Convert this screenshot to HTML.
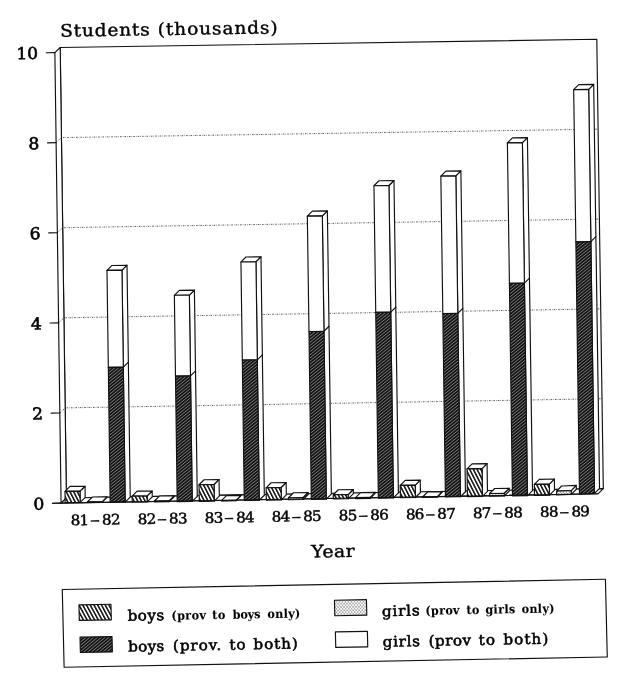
<!DOCTYPE html>
<html lang="en"><head><meta charset="utf-8"><title>Students (thousands) by Year</title>
<style>
html,body{margin:0;padding:0;background:#fff}
body{width:623px;height:683px;overflow:hidden}
svg{display:block;filter:grayscale(1)}
text{font-family:"DejaVu Serif","Liberation Serif",serif;fill:#111;stroke:#111;stroke-width:.2px}
.ln{stroke:#111;stroke-width:1.15px;fill:none;stroke-linejoin:round;stroke-linecap:round}
.wf{stroke:#111;stroke-width:1.15px;fill:#fff;stroke-linejoin:round}
.grid{stroke:#333;stroke-width:.8px;fill:none;stroke-dasharray:1.6 1.1 .6 1.1}
.b{font-weight:bold;stroke-width:.1px;fill:#000}
.lg{stroke-width:.55px;fill:#000;stroke:#000}
.yl{stroke-width:.6px;fill:#000;stroke:#000}
.xl{stroke-width:.45px;fill:#000;stroke:#000}
.tt{stroke-width:.4px;fill:#000;stroke:#000}
</style></head><body>
<svg width="623" height="683" viewBox="0 0 623 683">
<defs>
<pattern id="pBoys" width="3.3" height="3.3" patternUnits="userSpaceOnUse" patternTransform="rotate(-27)"><rect width="3.3" height="3.3" fill="#fff"/><rect width="1.55" height="3.3" fill="#111"/></pattern>
<pattern id="pBoth" width="2.45" height="2.45" patternUnits="userSpaceOnUse" patternTransform="rotate(51)"><rect width="2.45" height="2.45" fill="#111"/><rect width=".55" height="2.45" fill="#b4b4b4"/></pattern>
<pattern id="pGirls" width="3" height="3.4" patternUnits="userSpaceOnUse"><rect width="3" height="3.4" fill="#fff"/><circle cx=".75" cy=".85" r=".55" fill="#333"/><circle cx="2.25" cy="2.55" r=".55" fill="#333"/></pattern>
</defs>
<rect width="623" height="683" fill="#fff"/>
<g>
<polygon class="wf" points="60.2,47.5 596.8,39.3 603.3,488.6 66.4,498"/>
<polygon class="wf" points="60.2,47.5 54.87,52.58 61.07,503.09 66.4,498"/>
<polygon class="wf" points="66.4,498 603.3,488.6 597.97,493.79 61.07,503.09"/>
<path class="grid" d="M59.83 412.99L65.16 407.9L602 398.74"/>
<path class="grid" d="M58.59 322.89L63.92 317.8L600.7 308.88"/>
<path class="grid" d="M57.35 232.78L62.68 227.7L599.4 219.02"/>
<path class="grid" d="M56.11 142.68L61.44 137.6L598.1 129.16"/>
<line class="ln" x1="52.46" y1="503.24" x2="61.07" y2="503.09"/>
<text font-size="16.3" transform="translate(44.44 509.48) rotate(-1.01) scale(1.05 1)" text-anchor="end" class="yl">0</text>
<line class="ln" x1="51.23" y1="413.14" x2="59.83" y2="412.99"/>
<text font-size="16.3" transform="translate(43.21 419.37) rotate(-0.98) scale(1.05 1)" text-anchor="end" class="yl">2</text>
<line class="ln" x1="49.99" y1="323.03" x2="58.59" y2="322.89"/>
<text font-size="16.3" transform="translate(41.97 329.26) rotate(-0.96) scale(1.05 1)" text-anchor="end" class="yl">4</text>
<line class="ln" x1="48.75" y1="232.92" x2="57.35" y2="232.78"/>
<text font-size="16.3" transform="translate(40.73 239.15) rotate(-0.93) scale(1.05 1)" text-anchor="end" class="yl">6</text>
<line class="ln" x1="47.51" y1="142.82" x2="56.11" y2="142.68"/>
<text font-size="16.3" transform="translate(39.49 149.04) rotate(-0.90) scale(1.05 1)" text-anchor="end" class="yl">8</text>
<line class="ln" x1="46.27" y1="52.71" x2="54.87" y2="52.58"/>
<text font-size="16.3" transform="translate(38.26 58.93) rotate(-0.88) scale(1.05 1)" text-anchor="end" class="yl">10</text>
<polygon class="wf" points="80.01,491.19 85.05,486.25 85.2,497.45 80.17,502.39"/>
<polygon class="wf" points="65.01,491.33 70.04,486.38 85.05,486.25 80.01,491.19"/>
<polygon class="wf" style="fill:url(#pBoys)" points="65.01,491.33 80.01,491.19 80.17,502.39 65.16,502.52"/>
<polygon class="wf" points="101.97,501.82 107,496.87 107.01,497.27 101.98,502.22"/>
<polygon class="wf" points="87.36,501.93 92.4,496.99 107,496.87 101.97,501.82"/>
<polygon class="wf" style="fill:url(#pGirls)" points="87.36,501.93 101.97,501.82 101.98,502.22 87.37,502.33"/>
<polygon class="wf" points="121.98,270.19 127.02,265.21 130.22,497.09 125.18,502.04"/>
<line class="ln" x1="123.32" y1="367.15" x2="128.36" y2="362.17"/>
<polygon class="wf" points="106.98,270.43 112.01,265.46 127.02,265.21 121.98,270.19"/>
<polygon class="wf" points="106.98,270.43 121.98,270.19 123.32,367.15 108.32,367.37"/>
<polygon class="wf" style="fill:url(#pBoth)" points="108.32,367.37 123.32,367.15 125.18,502.04 110.18,502.16"/>
<polygon class="wf" points="147.13,495.95 152.16,490.99 152.25,496.91 147.21,501.87"/>
<polygon class="wf" points="132.13,496.07 137.16,491.12 152.16,490.99 147.13,495.95"/>
<polygon class="wf" style="fill:url(#pBoys)" points="132.13,496.07 147.13,495.95 147.21,501.87 132.21,501.98"/>
<polygon class="wf" points="169.01,500.89 174.04,495.93 174.05,496.74 169.02,501.7"/>
<polygon class="wf" points="154.4,501.01 159.44,496.05 174.04,495.93 169.01,500.89"/>
<polygon class="wf" style="fill:url(#pGirls)" points="154.4,501.01 169.01,500.89 169.02,501.7 154.42,501.81"/>
<polygon class="wf" points="189.37,295.06 194.4,290.08 197.26,496.43 192.23,501.44"/>
<line class="ln" x1="190.49" y1="375.93" x2="195.53" y2="370.92"/>
<polygon class="wf" points="174.37,295.3 179.4,290.33 194.4,290.08 189.37,295.06"/>
<polygon class="wf" points="174.37,295.3 189.37,295.06 190.49,375.93 175.49,376.16"/>
<polygon class="wf" style="fill:url(#pBoth)" points="175.49,376.16 190.49,375.93 192.23,501.44 177.22,501.63"/>
<polygon class="wf" points="214.03,484.48 219.06,479.46 219.29,496.04 214.26,501.06"/>
<polygon class="wf" points="199.02,484.74 204.06,479.73 219.06,479.46 214.03,484.48"/>
<polygon class="wf" style="fill:url(#pBoys)" points="199.02,484.74 214.03,484.48 214.26,501.06 199.25,501.32"/>
<polygon class="wf" points="236.06,500.37 241.1,495.36 241.1,495.66 236.07,500.67"/>
<polygon class="wf" points="221.46,500.63 226.49,495.62 241.1,495.36 236.06,500.37"/>
<polygon class="wf" style="fill:url(#pGirls)" points="221.46,500.63 236.06,500.37 236.07,500.67 221.46,500.93"/>
<polygon class="wf" points="255.95,261.7 260.98,256.73 264.31,495.26 259.27,500.27"/>
<line class="ln" x1="257.32" y1="359.92" x2="262.35" y2="354.92"/>
<polygon class="wf" points="240.95,261.95 245.98,256.97 260.98,256.73 255.95,261.7"/>
<polygon class="wf" points="240.95,261.95 255.95,261.7 257.32,359.92 242.32,360.18"/>
<polygon class="wf" style="fill:url(#pBoth)" points="242.32,360.18 257.32,359.92 259.27,500.27 244.27,500.53"/>
<polygon class="wf" points="281.13,487.53 286.16,482.51 286.34,494.87 281.3,499.88"/>
<polygon class="wf" points="266.13,487.79 271.16,482.78 286.16,482.51 281.13,487.53"/>
<polygon class="wf" style="fill:url(#pBoys)" points="266.13,487.79 281.13,487.53 281.3,499.88 266.3,500.14"/>
<polygon class="wf" points="303.08,497.49 308.12,492.48 308.14,494.49 303.11,499.5"/>
<polygon class="wf" points="288.48,497.75 293.51,492.73 308.12,492.48 303.08,497.49"/>
<polygon class="wf" style="fill:url(#pGirls)" points="288.48,497.75 303.08,497.49 303.11,499.5 288.51,499.75"/>
<polygon class="wf" points="322.34,215.89 327.37,210.92 331.35,494.08 326.32,499.09"/>
<line class="ln" x1="323.97" y1="331.28" x2="329" y2="326.27"/>
<polygon class="wf" points="307.34,216.14 312.37,211.16 327.37,210.92 322.34,215.89"/>
<polygon class="wf" points="307.34,216.14 322.34,215.89 323.97,331.28 308.97,331.53"/>
<polygon class="wf" style="fill:url(#pBoth)" points="308.97,331.53 323.97,331.28 326.32,499.09 311.31,499.35"/>
<polygon class="wf" points="348.29,494.49 353.32,489.48 353.38,493.7 348.35,498.71"/>
<polygon class="wf" points="333.28,494.75 338.32,489.74 353.32,489.48 348.29,494.49"/>
<polygon class="wf" style="fill:url(#pBoys)" points="333.28,494.75 348.29,494.49 348.35,498.71 333.34,498.97"/>
<polygon class="wf" points="370.14,497.42 375.18,492.41 375.19,493.31 370.16,498.32"/>
<polygon class="wf" points="355.54,497.68 360.57,492.67 375.18,492.41 370.14,497.42"/>
<polygon class="wf" style="fill:url(#pGirls)" points="355.54,497.68 370.14,497.42 370.16,498.32 355.55,498.58"/>
<polygon class="wf" points="388.95,185.48 393.98,180.51 398.4,492.91 393.37,497.92"/>
<line class="ln" x1="390.75" y1="312.19" x2="395.78" y2="307.22"/>
<polygon class="wf" points="373.95,185.72 378.98,180.75 393.98,180.51 388.95,185.48"/>
<polygon class="wf" points="373.95,185.72 388.95,185.48 390.75,312.19 375.74,312.44"/>
<polygon class="wf" style="fill:url(#pBoth)" points="375.74,312.44 390.75,312.19 393.37,497.92 378.36,498.18"/>
<polygon class="wf" points="415.22,485.08 420.25,480.07 420.43,492.52 415.39,497.53"/>
<polygon class="wf" points="400.21,485.34 405.24,480.34 420.25,480.07 415.22,485.08"/>
<polygon class="wf" style="fill:url(#pBoys)" points="400.21,485.34 415.22,485.08 415.39,497.53 400.39,497.79"/>
<polygon class="wf" points="437.2,496.75 442.23,491.74 442.23,492.14 437.2,497.15"/>
<polygon class="wf" points="422.59,497 427.62,491.99 442.23,491.74 437.2,496.75"/>
<polygon class="wf" style="fill:url(#pGirls)" points="422.59,497 437.2,496.75 437.2,497.15 422.6,497.4"/>
<polygon class="wf" points="455.84,175.83 460.88,170.86 465.44,491.73 460.41,496.74"/>
<line class="ln" x1="457.81" y1="313.28" x2="462.84" y2="308.3"/>
<polygon class="wf" points="440.85,176.07 445.88,171.1 460.88,170.86 455.84,175.83"/>
<polygon class="wf" points="440.85,176.07 455.84,175.83 457.81,313.28 442.81,313.53"/>
<polygon class="wf" style="fill:url(#pBoth)" points="442.81,313.53 457.81,313.28 460.41,496.74 445.41,497"/>
<polygon class="wf" points="482.05,468.66 487.08,463.65 487.47,491.35 482.44,496.35"/>
<polygon class="wf" points="467.04,468.92 472.07,463.91 487.08,463.65 482.05,468.66"/>
<polygon class="wf" style="fill:url(#pBoys)" points="467.04,468.92 482.05,468.66 482.44,496.35 467.43,496.62"/>
<polygon class="wf" points="504.21,493.26 509.24,488.26 509.28,490.97 504.25,495.97"/>
<polygon class="wf" points="489.6,493.52 494.64,488.51 509.24,488.26 504.21,493.26"/>
<polygon class="wf" style="fill:url(#pGirls)" points="489.6,493.52 504.21,493.26 504.25,495.97 489.64,496.23"/>
<polygon class="wf" points="522.4,142.66 527.43,137.69 532.49,490.56 527.46,495.57"/>
<line class="ln" x1="524.42" y1="283.14" x2="529.45" y2="278.17"/>
<polygon class="wf" points="507.4,142.89 512.43,137.93 527.43,137.69 522.4,142.66"/>
<polygon class="wf" points="507.4,142.89 522.4,142.66 524.42,283.14 509.42,283.39"/>
<polygon class="wf" style="fill:url(#pBoth)" points="509.42,283.39 524.42,283.14 527.46,495.57 512.45,495.83"/>
<polygon class="wf" points="549.33,484.14 554.36,479.04 554.52,490.07 549.48,495.18"/>
<polygon class="wf" points="534.32,484.41 539.35,479.4 554.36,479.04 549.33,484.14"/>
<polygon class="wf" style="fill:url(#pBoys)" points="534.32,484.41 549.33,484.14 549.48,495.18 534.48,495.44"/>
<polygon class="wf" points="571.24,490.53 576.27,485.44 576.32,489.24 571.29,494.33"/>
<polygon class="wf" points="556.63,491.09 561.66,485.99 576.27,485.44 571.24,490.53"/>
<polygon class="wf" style="fill:url(#pGirls)" points="556.63,491.09 571.24,490.53 571.29,494.33 556.69,494.9"/>
<polygon class="wf" points="588.66,89.37 593.69,84.41 599.53,488.35 594.5,493.43"/>
<line class="ln" x1="590.86" y1="241.67" x2="595.89" y2="236.7"/>
<polygon class="wf" points="573.67,89.6 578.69,84.64 593.69,84.41 588.66,89.37"/>
<polygon class="wf" points="573.67,89.6 588.66,89.37 590.86,241.67 575.86,241.91"/>
<polygon class="wf" style="fill:url(#pBoth)" points="575.86,241.91 590.86,241.67 594.5,493.43 579.5,494.01"/>
<line class="ln" x1="52.46" y1="503.24" x2="597.97" y2="493.79"/>
<text class="xl" font-size="14.5" transform="translate(70.68 525.31) rotate(-1.01) scale(1.05 1)"><tspan x="0" textLength="17.71" lengthAdjust="spacing">81</tspan><tspan x="18.67" textLength="9.14" lengthAdjust="spacingAndGlyphs">–</tspan><tspan x="29.9" textLength="17.71" lengthAdjust="spacing">82</tspan></text>
<text class="xl" font-size="14.5" transform="translate(137.73 524.13) rotate(-1.01) scale(1.05 1)"><tspan x="0" textLength="17.71" lengthAdjust="spacing">82</tspan><tspan x="18.67" textLength="9.14" lengthAdjust="spacingAndGlyphs">–</tspan><tspan x="29.9" textLength="17.71" lengthAdjust="spacing">83</tspan></text>
<text class="xl" font-size="14.5" transform="translate(204.77 522.95) rotate(-1.01) scale(1.05 1)"><tspan x="0" textLength="17.71" lengthAdjust="spacing">83</tspan><tspan x="18.67" textLength="9.14" lengthAdjust="spacingAndGlyphs">–</tspan><tspan x="29.9" textLength="17.71" lengthAdjust="spacing">84</tspan></text>
<text class="xl" font-size="14.5" transform="translate(271.82 521.76) rotate(-1.01) scale(1.05 1)"><tspan x="0" textLength="17.71" lengthAdjust="spacing">84</tspan><tspan x="18.67" textLength="9.14" lengthAdjust="spacingAndGlyphs">–</tspan><tspan x="29.9" textLength="17.71" lengthAdjust="spacing">85</tspan></text>
<text class="xl" font-size="14.5" transform="translate(338.87 520.58) rotate(-1.01) scale(1.05 1)"><tspan x="0" textLength="17.71" lengthAdjust="spacing">85</tspan><tspan x="18.67" textLength="9.14" lengthAdjust="spacingAndGlyphs">–</tspan><tspan x="29.9" textLength="17.71" lengthAdjust="spacing">86</tspan></text>
<text class="xl" font-size="14.5" transform="translate(405.91 519.4) rotate(-1.01) scale(1.05 1)"><tspan x="0" textLength="17.71" lengthAdjust="spacing">86</tspan><tspan x="18.67" textLength="9.14" lengthAdjust="spacingAndGlyphs">–</tspan><tspan x="29.9" textLength="17.71" lengthAdjust="spacing">87</tspan></text>
<text class="xl" font-size="14.5" transform="translate(472.96 518.22) rotate(-1.01) scale(1.05 1)"><tspan x="0" textLength="17.71" lengthAdjust="spacing">87</tspan><tspan x="18.67" textLength="9.14" lengthAdjust="spacingAndGlyphs">–</tspan><tspan x="29.9" textLength="17.71" lengthAdjust="spacing">88</tspan></text>
<text class="xl" font-size="14.5" transform="translate(540.01 517.03) rotate(-1.01) scale(1.05 1)"><tspan x="0" textLength="17.71" lengthAdjust="spacing">88</tspan><tspan x="18.67" textLength="9.14" lengthAdjust="spacingAndGlyphs">–</tspan><tspan x="29.9" textLength="17.71" lengthAdjust="spacing">89</tspan></text>
<text font-size="17.2" transform="translate(311.19 557.61) rotate(-1.02) scale(1.1 1)" textLength="39.64" lengthAdjust="spacing" class="tt">Year</text>
<text class="tt" font-size="17.2" transform="translate(60.25 36.7) rotate(-0.87) scale(1.08 1)"><tspan x="0" textLength="82.96" lengthAdjust="spacing">Students</tspan> <tspan x="90.37" textLength="110.93" lengthAdjust="spacing">(thousands)</tspan></text>
</g>
<g transform="matrix(0.999908 -0.018962 0.023718 0.996154 62.275000 589.550000)">
<rect class="wf" x="0" y="0" width="543.2" height="78.0"/>
<rect class="wf" style="fill:url(#pBoys)" x="16.3" y="15.7" width="32" height="15.6"/>
<rect class="wf" style="fill:url(#pBoth)" x="16.6" y="48.1" width="32" height="15.4"/>
<rect class="wf" style="fill:url(#pGirls)" x="271.8" y="15.9" width="32" height="15.6"/>
<rect class="wf" x="272" y="47.7" width="32" height="15.6"/>
<text class="lg" font-size="14.6" transform="translate(0 32.5) scale(1.04 1)"><tspan x="62.12" textLength="35.29" lengthAdjust="spacing">boys</tspan></text>
<text class="b" font-size="12" transform="translate(0 32.5) scale(0.93 1)"><tspan x="116.56" textLength="37.2" lengthAdjust="spacing">(prov</tspan> <tspan x="160.54" textLength="13.98" lengthAdjust="spacing">to</tspan> <tspan x="182.37" textLength="30.11" lengthAdjust="spacing">boys</tspan> <tspan x="220" textLength="35.05" lengthAdjust="spacing">only)</tspan></text>
<text class="lg" font-size="14.6" transform="translate(0 63.5) scale(1.04 1)"><tspan x="61.92" textLength="34.81" lengthAdjust="spacing">boys</tspan> <tspan x="105.1" textLength="46.44" lengthAdjust="spacing">(prov.</tspan> <tspan x="159.42" textLength="15.58" lengthAdjust="spacing">to</tspan> <tspan x="182.5" textLength="42.69" lengthAdjust="spacing">both)</tspan></text>
<text class="lg" font-size="14.6" transform="translate(0 32.8) scale(1.04 1)"><tspan x="306.63" textLength="36.54" lengthAdjust="spacing">girls</tspan></text>
<text class="b" font-size="12" transform="translate(0 32.3) scale(0.93 1)"><tspan x="389.78" textLength="36.67" lengthAdjust="spacing">(prov</tspan> <tspan x="433.76" textLength="13.98" lengthAdjust="spacing">to</tspan> <tspan x="454.19" textLength="32.26" lengthAdjust="spacing">girls</tspan> <tspan x="493.23" textLength="35.27" lengthAdjust="spacing">only)</tspan></text>
<text class="lg" font-size="14.6" transform="translate(0 63.5) scale(1.04 1)"><tspan x="306.73" textLength="35.87" lengthAdjust="spacing">girls</tspan> <tspan x="350.87" textLength="40.87" lengthAdjust="spacing">(prov</tspan> <tspan x="399.13" textLength="15.77" lengthAdjust="spacing">to</tspan> <tspan x="422.88" textLength="43.08" lengthAdjust="spacing">both)</tspan></text>
</g>
</svg></body></html>
